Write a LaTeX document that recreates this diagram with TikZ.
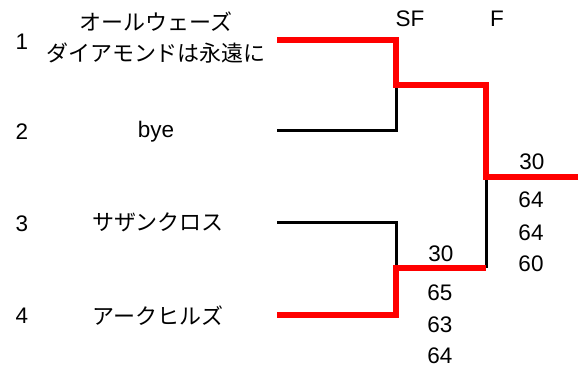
\documentclass[tikz,border=0pt]{standalone}
\usepackage{fontspec}
\setmainfont{Liberation Sans}
\newfontfamily\jp{Noto Sans CJK JP}
\begin{document}
\begin{tikzpicture}[x=1pt,y=-1pt,
  lbl/.style={inner sep=0pt,font=\fontsize{22.5}{26}\selectfont},
  jlbl/.style={inner sep=0pt,align=center,font=\fontsize{22}{31}\selectfont\jp},
  win/.style={draw=red,line width=6pt,line join=miter},
  lose/.style={draw=black,line width=3pt,line join=miter}]
\useasboundingbox (0,0) rectangle (579,371);
% seeds
\node[lbl] (n1) at (22,42) {1};
\node[lbl] (n2) at (22,132) {2};
\node[lbl] (n3) at (22,224) {3};
\node[lbl] (n4) at (22,316) {4};
% teams
\node[jlbl] (t1) at (156,38) {オールウェーズ\\ダイアモンドは永遠に};
\node[lbl] (t2) at (156,132) {bye};
\node[jlbl] (t3) at (158,222) {サザンクロス};
\node[jlbl] (t4) at (158,316) {アークヒルズ};
% round headers
\node[lbl] (sf) at (410,19) {SF};
\node[lbl] (fh) at (497,19) {F};
% bracket points
\coordinate (e1) at (277,40);
\coordinate (e2) at (277,131);
\coordinate (e3) at (277,223);
\coordinate (e4) at (277,315);
\coordinate (s1) at (396,85);
\coordinate (s2) at (396,268);
\coordinate (fj) at (486,177);
\coordinate (w) at (578,177);
% losers
\draw[lose] (e2) -- (e2 -| s1) -- (s1);
\draw[lose] (e3) -- (e3 -| s2) -- (s2);
\draw[lose] (s2 -| fj) -- (fj);
% winners
\draw[win] (e1) -- (e1 -| s1) -- (s1) -- (s1 -| fj) -- (fj) -- (w);
\draw[win] (e4) -- (e4 -| s2) -- (s2) -- (s2 -| fj);
% scores
\node[lbl] (fa) at (532,162) {30};
\node[lbl] (fb) at (531,200) {64};
\node[lbl] (fc) at (531,233) {64};
\node[lbl] (fd) at (531,264) {60};
\node[lbl] (sa) at (441,254) {30};
\node[lbl] (sb) at (440,293) {65};
\node[lbl] (sc) at (440,325) {63};
\node[lbl] (sd) at (440,356) {64};
\end{tikzpicture}
\end{document}
